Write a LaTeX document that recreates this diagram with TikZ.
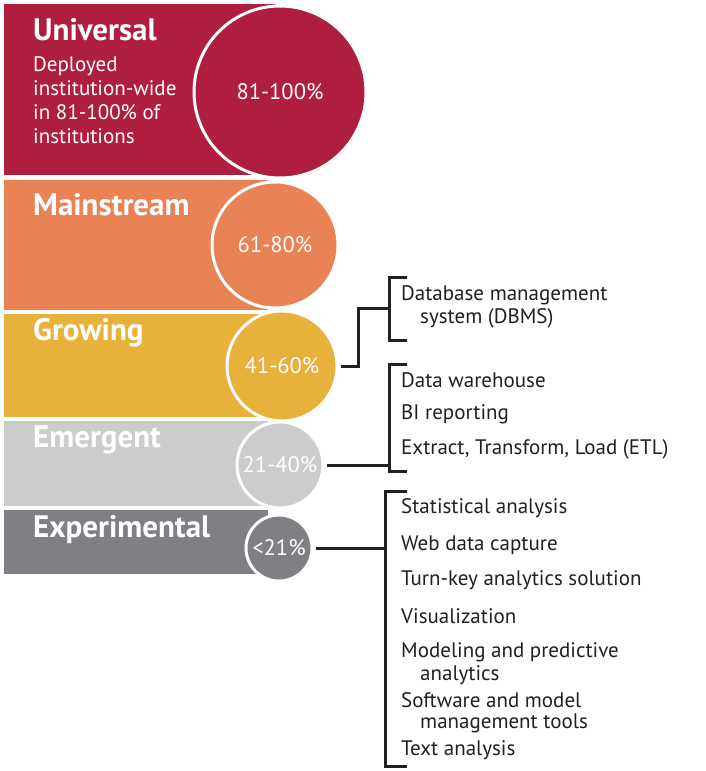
\documentclass[tikz,border=0pt]{standalone}
\usepackage{fontspec}
\setmainfont{PT Sans}
\definecolor{cU}{HTML}{B01E3E}
\definecolor{cM}{HTML}{E98356}
\definecolor{cG}{HTML}{E8B13B}
\definecolor{cE}{HTML}{CBCCCE}
\definecolor{cX}{HTML}{7E8083}
\definecolor{ink}{HTML}{231F20}
\begin{document}
\begin{tikzpicture}[x=1pt,y=-1pt,
  bub/.style={circle,fill=#1,draw=white,line width=3pt,inner sep=0pt,text=white,font=\fontsize{22.5}{24}\selectfont},
  ttl/.style={anchor=west,text=white,font=\fontsize{31}{33}\selectfont\bfseries,inner sep=0pt},
  item/.style={anchor=west,text=ink,font=\fontsize{21}{22}\selectfont,inner sep=0pt,align=left},
  conn/.style={draw=ink,line width=3pt},
  brk/.style={draw=ink,line width=3pt}]
\useasboundingbox (0,0) rectangle (706,771);
% bands
\fill[cU] (4,4) rectangle (275,175);
\fill[cM] (4,180) rectangle (268,310);
\fill[cG] (4,314) rectangle (268,417);
\fill[cE] (4,421) rectangle (268,506);
\fill[cX] (4,510) rectangle (268,574);
% bubbles
\node[bub=cU,minimum size=172pt] (bU) at (280,92) {81-100\%};
\node[bub=cM,minimum size=126pt] (bM) at (275,245) {61-80\%};
\node[bub=cG,minimum size=110pt] (bG) at (282,366) {41-60\%};
\node[bub=cE,minimum size=86pt] (bE) at (280,465) {21-40\%};
\node[bub=cX,minimum size=66pt] (bX) at (279,548) {<21\%};
% titles
\node[ttl] (tU) at (33,30) {Universal};
\node[anchor=north west,text=white,inner sep=0pt,align=left,font=\fontsize{21}{24}\selectfont] (dU) at (33,56) {Deployed\\institution-wide\\in 81-100\% of\\institutions};
\node[ttl] (tM) at (33,205) {Mainstream};
\node[ttl] (tG) at (33,333) {Growing};
\node[ttl] (tE) at (33,440) {Emergent};
\node[ttl] (tX) at (33,530) {Experimental};
% items
\node[item] (i1) at (401,295) {Database management};
\node[item] (i1b) at (420,318) {system (DBMS)};
\node[item] (i2) at (401,380) {Data warehouse};
\node[item] (i3) at (401,414) {BI reporting};
\node[item] (i4) at (401,449) {Extract, Transform, Load (ETL)};
\node[item] (i5) at (401,508) {Statistical analysis};
\node[item] (i6) at (401,545) {Web data capture};
\node[item] (i7) at (401,580) {Turn-key analytics solution};
\node[item] (i8) at (401,616) {Visualization};
\node[item] (i9) at (401,652) {Modeling and predictive};
\node[item] (i9b) at (420,675) {analytics};
\node[item] (i10) at (401,700) {Software and model};
\node[item] (i10b) at (420,723) {management tools};
\node[item] (i11) at (401,750) {Text analysis};
% brackets
\coordinate (k1) at (389,308);
\coordinate (k2) at (389,465);
\coordinate (k3) at (385,548);
\draw[brk] (407,277) -- (389,277) -- (389,340) -- (407,340);
\draw[brk] (407,364) -- (389,364) -- (389,471) -- (407,471);
\draw[brk] (407,491) -- (385,491) -- (385,766) -- (407,766);
% connectors
\draw[conn] (bG.east) ++(2,0) -- ++(18,0) coordinate (m1) |- (k1);
\draw[conn] (bE.east) ++(2,0) -- (k2);
\draw[conn] (bX.east) ++(2,0) -- (k3);
\end{tikzpicture}
\end{document}
